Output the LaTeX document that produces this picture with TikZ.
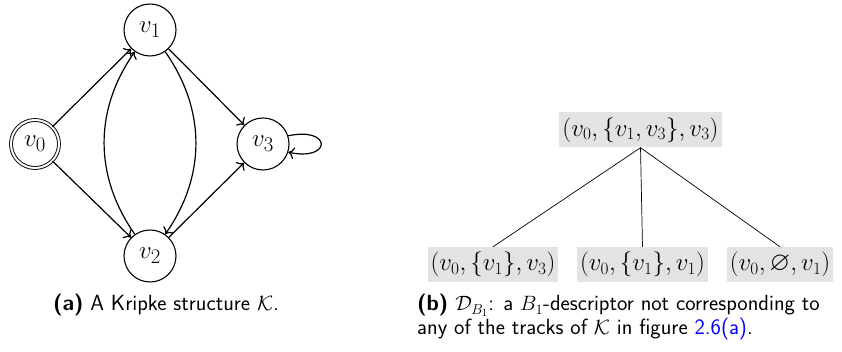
\documentclass[tikz,border=0pt]{standalone}
\usepackage{amsmath,amssymb}
\usetikzlibrary{arrows.meta}
\begin{document}
\begin{tikzpicture}[x=1pt,y=1pt,
  state/.style={circle,draw,line width=1.1pt,minimum size=52pt,inner sep=0pt,font=\fontsize{28}{30}\selectfont},
  initstate/.style={state,double,line width=0.9pt,double distance=2pt,minimum size=48pt},
  edge/.style={->,>={To[length=6pt,width=12pt]},line width=1.2pt},
  tbox/.style={fill=black!11,inner xsep=3pt,minimum height=35pt,font=\fontsize{26.5}{30}\selectfont},
  tline/.style={line width=0.7pt},
  captext/.style={font=\fontsize{22}{24}\selectfont\sffamily,inner sep=0pt}]
\useasboundingbox (0,0) rectangle (842,352);
% Kripke structure
\node[initstate] (v0) at (35,208) {$v_0$};
\node[state] (v1) at (150,322) {$v_1$};
\node[state] (v2) at (150,96) {$v_2$};
\node[state] (v3) at (263,208) {$v_3$};
\draw[edge] (v0) -- (v1);
\draw[edge] (v0) -- (v2);
\draw[edge] (v1) -- (v3);
\draw[edge] (v2) -- (v3);
\draw[edge] (v2) to[bend left=35] (v1);
\draw[edge] (v1) to[bend left=35] (v2);
\draw[edge] (v3.18) to[out=12,in=-12,looseness=7] (v3.-18);
\node[captext,anchor=base] (capa) at (166,41) {\textbf{(a)} A Kripke structure $\mathcal{K}$.};
% tree
\node[tbox] (r) at (640.5,222) {$(v_0,\{v_1,v_3\},v_3)$};
\node[tbox] (c1) at (493,87.5) {$(v_0,\{v_1\},v_3)$};
\node[tbox] (c2) at (642.5,87.5) {$(v_0,\{v_1\},v_1)$};
\node[tbox] (c3) at (780,87.5) {$(v_0,\varnothing,v_1)$};
\draw[tline] (r.south) -- (c1.north);
\draw[tline] (r.south) -- (c2.north);
\draw[tline] (r.south) -- (c3.north);
\node[captext,anchor=base west,align=left] (capb) at (417,17) {\textbf{(b)} $\mathcal{D}_{B_1}$: a $B_1$-descriptor not corresponding to\\any of the tracks of $\mathcal{K}$ in figure \textcolor{blue}{2.6(a)}.};
\end{tikzpicture}
\end{document}
